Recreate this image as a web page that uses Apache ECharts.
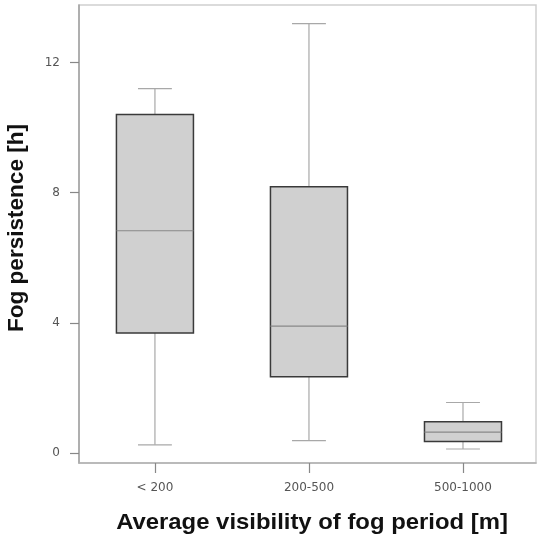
<!DOCTYPE html>
<html>
<head>
<meta charset="utf-8">
<script src="https://cdn.jsdelivr.net/npm/echarts@6/dist/echarts.min.js"></script>
<style>html,body{margin:0;padding:0;background:#fff}#c{width:537px;height:540px}</style>
</head>
<body>
<div id="c"></div>
<script>
var categories = ['< 200', '200-500', '500-1000'];
var whiskerLow = [0.25, 0.38, 0.12];
var q1 = [3.69, 2.34, 0.35];
var median = [6.83, 3.90, 0.64];
var q3 = [10.40, 8.18, 0.96];
var whiskerHigh = [11.20, 13.20, 1.55];
var yTicks = [0, 4, 8, 12];

var data = categories.map(function (c, i) {
  return [i + 1, whiskerLow[i], q1[i], median[i], q3[i], whiskerHigh[i]];
});

function renderItem(params, api) {
  var x = api.value(0);
  var pLo = api.coord([x, api.value(1)]);
  var pQ1 = api.coord([x, api.value(2)]);
  var pMed = api.coord([x, api.value(3)]);
  var pQ3 = api.coord([x, api.value(4)]);
  var pHi = api.coord([x, api.value(5)]);
  var unit = api.size([1, 0])[0];
  var halfBox = unit * 0.25;
  var halfCap = unit * 0.11;
  var cx = pMed[0];
  var wStyle = { stroke: '#a8a8a8', lineWidth: 1.2 };
  return {
    type: 'group',
    children: [
      { type: 'line', shape: { x1: cx, y1: pQ3[1], x2: cx, y2: pHi[1] }, style: wStyle },
      { type: 'line', shape: { x1: cx - halfCap, y1: pHi[1], x2: cx + halfCap, y2: pHi[1] }, style: wStyle },
      { type: 'line', shape: { x1: cx, y1: pQ1[1], x2: cx, y2: pLo[1] }, style: wStyle },
      { type: 'line', shape: { x1: cx - halfCap, y1: pLo[1], x2: cx + halfCap, y2: pLo[1] }, style: wStyle },
      { type: 'rect', shape: { x: cx - halfBox, y: pQ3[1], width: halfBox * 2, height: pQ1[1] - pQ3[1] },
        style: { fill: '#d0d0d0', stroke: '#3a3a3a', lineWidth: 1.5 } },
      { type: 'line', shape: { x1: cx - halfBox, y1: pMed[1], x2: cx + halfBox, y2: pMed[1] },
        style: { stroke: '#888888', lineWidth: 1.2 } }
    ]
  };
}

var chart = echarts.init(document.getElementById('c'), null, { renderer: 'canvas' });
chart.setOption({
  animation: false,
  backgroundColor: '#fff',
  grid: { left: 79, right: 1, top: 5, bottom: 77, show: true, borderColor: '#cfcfcf', borderWidth: 1.5 },
  xAxis: {
    type: 'value',
    min: 0.507,
    max: 3.474,
    splitLine: { show: false },
    axisLine: { show: true, onZero: false, lineStyle: { color: '#b0b0b0', width: 1.5 } },
    axisTick: { show: true, customValues: [1, 2, 3], length: 10, lineStyle: { color: '#888', width: 1.2 } },
    axisLabel: {
      customValues: [1, 2, 3], margin: 19, color: '#555', fontSize: 12, fontFamily: 'DejaVu Sans',
      formatter: function (v) { return categories[Math.round(v) - 1]; }
    }
  },
  yAxis: {
    type: 'value',
    min: -0.31,
    max: 13.77,
    splitLine: { show: false },
    axisLine: { show: true, onZero: false, lineStyle: { color: '#a0a0a0', width: 1.5 } },
    axisTick: { show: true, customValues: yTicks, length: 9, lineStyle: { color: '#888', width: 1.2 } },
    axisLabel: { customValues: yTicks, margin: 19, color: '#555', fontSize: 12, fontFamily: 'DejaVu Sans' }
  },
  graphic: [
    { type: 'text', x: 312, y: 523, scaleX: 1.085, style: { text: 'Average visibility of fog period [m]', x: 0, y: 0,
      align: 'center', verticalAlign: 'middle', font: 'bold 22px "Liberation Sans"', fill: '#111' } },
    { type: 'text', x: 17, y: 228, rotation: Math.PI / 2, scaleX: 1.025, style: { text: 'Fog persistence [h]', x: 0, y: 0,
      align: 'center', verticalAlign: 'middle', font: 'bold 22px "Liberation Sans"', fill: '#111' } }
  ],
  series: [{
    type: 'custom',
    renderItem: renderItem,
    encode: { x: 0, y: [1, 2, 3, 4, 5] },
    data: data
  }]
});
</script>
</body>
</html>
